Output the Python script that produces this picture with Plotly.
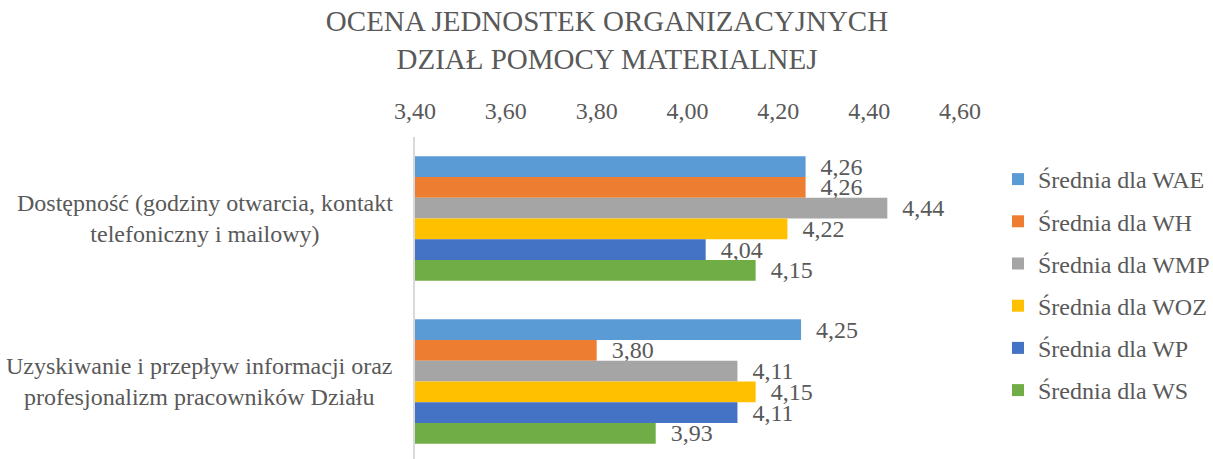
import plotly.graph_objects as go

# ---- data ----
categories = [
    "Dostępność (godziny otwarcia, kontakt<br>telefoniczny i mailowy)",
    "Uzyskiwanie i przepływ informacji oraz<br>profesjonalizm pracowników Działu",
]
series_names = [
    "Średnia dla WAE",
    "Średnia dla WH",
    "Średnia dla WMP",
    "Średnia dla WOZ",
    "Średnia dla WP",
    "Średnia dla WS",
]
wae = [4.26, 4.25]
wh = [4.26, 3.80]
wmp = [4.44, 4.11]
woz = [4.22, 4.15]
wp = [4.04, 4.11]
ws = [4.15, 3.93]
series_values = [wae, wh, wmp, woz, wp, ws]
series_colors = ["#5B9BD5", "#ED7D31", "#A5A5A5", "#FFC000", "#4472C4", "#70AD47"]
tick_values = [3.40, 3.60, 3.80, 4.00, 4.20, 4.40, 4.60]
tick_labels = ["3,40", "3,60", "3,80", "4,00", "4,20", "4,40", "4,60"]
title_text = "OCENA JEDNOSTEK ORGANIZACYJNYCH<br>DZIAŁ POMOCY MATERIALNEJ"

FONT = "Liberation Serif"
GREY = "#595959"

fig = go.Figure()
for i, (name, vals, col) in enumerate(zip(series_names, series_values, series_colors)):
    fig.add_trace(go.Bar(
        y=categories,
        x=vals,
        name=name,
        orientation="h",
        marker=dict(color=col, line=dict(width=0)),
        text=["\u00a0\u00a0" + f"{v:.2f}".replace(".", ",") for v in vals],
        textposition="outside",
        textfont=dict(family=FONT, size=24, color=GREY),
        constraintext="none",
        cliponaxis=False,
        legendgroup=f"g{i}",
        hoverinfo="x+name",
    ))

for idx, cat in enumerate(categories):
    fig.add_annotation(
        x=-0.037, xref="paper", xanchor="right",
        y=idx, yref="y", yanchor="middle",
        text=cat, showarrow=False, align="center",
        font=dict(family=FONT, size=24, color=GREY),
    )

fig.update_layout(
    width=1213, height=459,
    margin=dict(l=415, r=253, t=137, b=0, autoexpand=False),
    paper_bgcolor="white", plot_bgcolor="white",
    font=dict(family=FONT, size=24, color=GREY),
    barmode="group",
    bargap=0.235,
    bargroupgap=0,
    title=dict(
        text=title_text,
        x=607 / 1213, xref="container", xanchor="center",
        y=1 - 31 / 459, yref="container", yanchor="top",
        font=dict(family=FONT, size=29, color=GREY),
    ),
    xaxis=dict(
        side="top",
        range=[3.4, 4.6],
        tickvals=tick_values,
        ticktext=tick_labels,
        showgrid=False,
        zeroline=False,
        showline=False,
        ticks="",
        ticklabelstandoff=12,
        tickfont=dict(family=FONT, size=24, color=GREY),
    ),
    yaxis=dict(
        type="category",
        range=[1.4755, -0.5],
        showticklabels=False,
        showgrid=False,
        zeroline=False,
        showline=True,
        linecolor="#D9D9D9",
        linewidth=1.5,
        ticks="",
    ),
    legend=dict(
        x=(998 - 415) / 545, xanchor="left",
        y=1 - (157 - 137) / 322, yanchor="top",
        traceorder="grouped",
        tracegroupgap=8,
        font=dict(family=FONT, size=24, color=GREY),
        bgcolor="rgba(0,0,0,0)",
    ),
    showlegend=True,
)

fig.write_html(
    "out.html",
    config={"displayModeBar": False},
    post_script="document.body.style.margin='0';",
)
